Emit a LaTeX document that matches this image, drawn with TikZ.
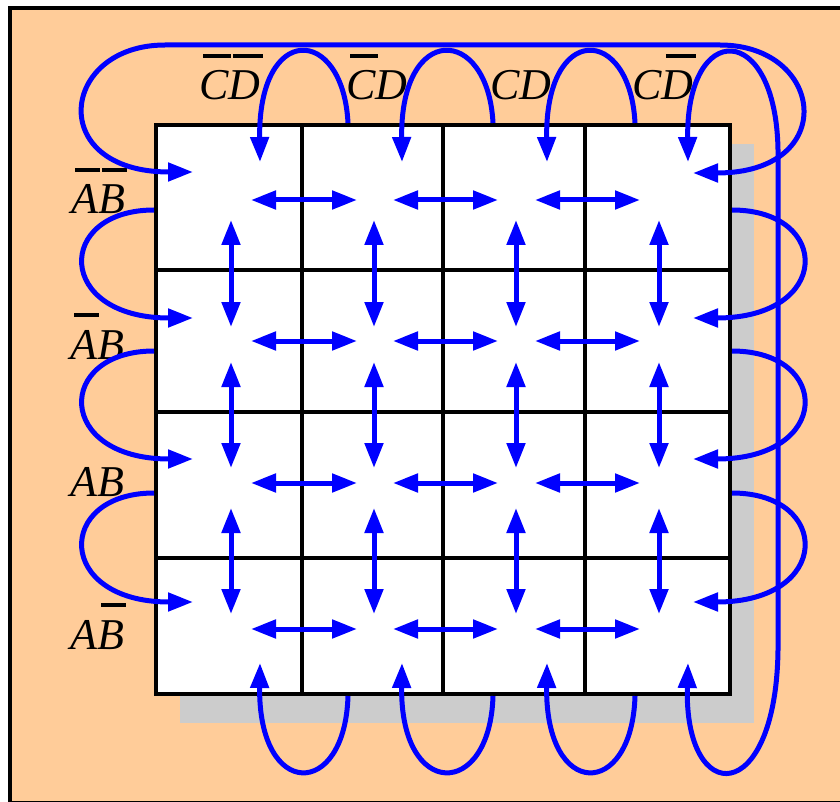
\documentclass[tikz,border=0pt]{standalone}
\usepackage{fontspec}
\setmainfont{Liberation Serif}
\usetikzlibrary{arrows.meta}
\definecolor{bgorange}{RGB}{255,204,153}
\definecolor{shadowgray}{RGB}{204,204,204}
\definecolor{kblue}{RGB}{0,0,255}
\newcommand\ovl[1]{\setbox0\hbox{#1}\rlap{\kern4pt\raise42pt\hbox{\vrule width \dimexpr\wd0-2pt\relax height 4pt depth 0pt}}\box0}
\tikzset{
  tipk/.tip={Triangle[length=25pt,width=18pt]},
  oneway/.style={draw=kblue, line width=5pt, -tipk},
  twoway/.style={draw=kblue, line width=5pt, tipk-tipk},
  gridline/.style={draw=black, line width=4.2pt},
  lbl/.style={inner sep=0pt, anchor=base, font=\fontsize{44}{50}\selectfont\itshape}
}
\begin{document}
\begin{tikzpicture}[x=1pt,y=-1pt]
\useasboundingbox (0,0) rectangle (840,802);
% background and frame
\fill[bgorange] (10,8) rectangle (860,803);
\draw[line width=4pt] (10,8) rectangle (860,803);
% shadow
\fill[shadowgray] (180,144) rectangle (754,723);
% grid
\fill[white] (156,125) rectangle (730,694);
\foreach \gx in {156,302,443,585,730} \draw[gridline] (\gx,125) -- (\gx,694);
\foreach \gy in {125,270,412,558,694} \draw[gridline] (156,\gy) -- (730,\gy);
\draw[gridline, line join=miter] (156,125) rectangle (730,694);

% labels
\node[lbl] (lcd1) at (230,100) {\ovl{C}\ovl{D}};
\node[lbl] (lcd2) at (377,100) {\ovl{C}D};
\node[lbl] (lcd3) at (521,100) {CD};
\node[lbl] (lcd4) at (663,100) {C\ovl{D}};
\node[lbl] (lab1) at (98,214) {\ovl{A}\ovl{B}};
\node[lbl] (lab2) at (97,359) {\ovl{A}B};
\node[lbl] (lab3) at (97,496) {AB};
\node[lbl] (lab4) at (97,649) {A\ovl{B}};

% horizontal double arrows inside the grid
\foreach \r/\y in {1/200,2/341,3/483,4/629}{
  \foreach \c/\xa/\xb in {1/251/357,2/393/498,3/535/640}{
    \coordinate (h\r\c a) at (\xa,\y);
    \coordinate (h\r\c b) at (\xb,\y);
    \draw[twoway] (h\r\c a) -- (h\r\c b);
  }
}
% vertical double arrows inside the grid
\foreach \c/\x in {1/231,2/374,3/516,4/659}{
  \foreach \r/\ya/\yb in {1/220/327,2/362/468,3/508/614}{
    \coordinate (v\r\c a) at (\x,\ya);
    \coordinate (v\r\c b) at (\x,\yb);
    \draw[twoway] (v\r\c a) -- (v\r\c b);
  }
}
% top and bottom wrap loops, columns 1-3
\foreach \c/\tx/\ox in {1/260/348,2/402/493,3/547/635}{
  \coordinate (t\c in) at (\tx,162);
  \coordinate (t\c out) at (\ox,123);
  \draw[oneway] (t\c out) .. controls +(-5,-98) and +(-2,-140) .. (t\c in);
  \coordinate (b\c in) at (\tx,663);
  \coordinate (b\c out) at (\ox,696);
  \draw[oneway] (b\c out) .. controls +(-3,104) and +(-2,137) .. (b\c in);
}
% left and right wrap loops, rows 2-4
\foreach \r/\s/\e in {2/210/318,3/351/459,4/493/602}{
  \coordinate (l\r out) at (154,\s);
  \coordinate (l\r in) at (193,\e);
  \draw[oneway] (l\r out) .. controls +(-99,0) and +(-138,0) .. (l\r in);
  \coordinate (r\r out) at (732,\s);
  \coordinate (r\r in) at (693,\e);
  \draw[oneway] (r\r out) .. controls +(100,0) and +(139,0) .. (r\r in);
}
% row 1 wrap (over the top)
\coordinate (ra) at (193,172);
\coordinate (rb) at (693,173);
\coordinate (rl) at (165,45);
\coordinate (rr) at (720,45);
\draw[twoway] (ra) .. controls (45,172) and (60,45) .. (rl) -- (rr) .. controls (825,45) and (840,173) .. (rb);
% column 4 wrap (down the right side)
\coordinate (ca) at (688,162);
\coordinate (cb) at (688,663);
\coordinate (ct) at (778,150);
\coordinate (cu) at (778,650);
\draw[twoway] (ca) .. controls (686,20) and (776,20) .. (ct) -- (cu) .. controls (776,808) and (684,808) .. (cb);
\end{tikzpicture}
\end{document}
